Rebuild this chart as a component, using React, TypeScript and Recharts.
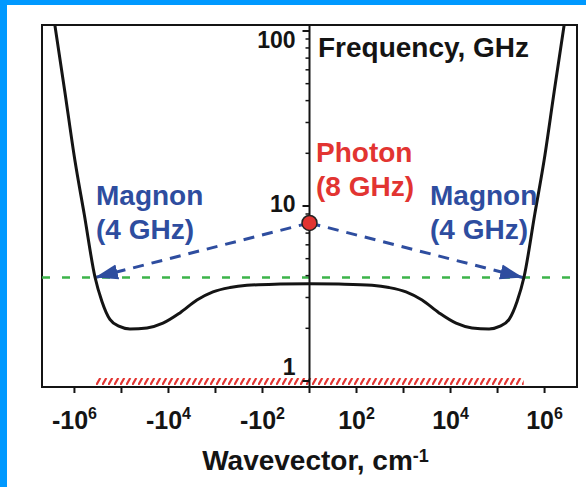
import { ComposedChart, Line, XAxis, YAxis, ReferenceLine, ReferenceArea, ReferenceDot } from "recharts";

// wavevector (cm^-1) and frequency (GHz) of the black dispersion curve
const curveK = [
  -2.7e6, -1.6e6, -9.8e5, -6.2e5, -3.66e5, -2.6e5, -1.76e5, -1.1e5, -6.6e4, -2.86e4, -1.31e4,
  -5.7e3, -2.48e3, -1.13e3, -491, -214, -42, 0, 42, 214, 491, 1.13e3, 2.48e3, 5.7e3, 1.31e4,
  2.86e4, 6.6e4, 1.1e5, 1.76e5, 2.6e5, 3.66e5, 6.2e5, 9.8e5, 1.6e6, 2.7e6,
];
const curveF = [
  115, 45, 18.3, 9.0, 3.93, 2.85, 2.25, 2.05, 1.98, 2.01, 2.14, 2.45, 2.9, 3.23, 3.42, 3.52, 3.58,
  3.6, 3.58, 3.52, 3.42, 3.23, 2.9, 2.45, 2.14, 2.01, 1.98, 2.05, 2.25, 2.85, 3.93, 9.0, 18.3, 45,
  115,
];

const photonK = 0;
const photonF = 8;
const magnonK = [-3.66e5, 3.5e5];
const magnonF = 3.9;
const hatchK = [-3.5e5, 3.6e5];
const hatchF = [0.949, 1.04];

const xTickK = [-1e6, -1e5, -1e4, -1e3, -1e2, 0, 1e2, 1e3, 1e4, 1e5, 1e6];
const xLabelK = [-1e6, -1e4, -1e2, 1e2, 1e4, 1e6];
const yMajor = [1, 10, 100];
const yMinor = [2, 3, 4, 5, 6, 7, 8, 9, 20, 30, 40, 50, 60, 70, 80, 90];

const X_DOMAIN: [number, number] = [-5.69, 5.69];
const Y_DOMAIN: [number, number] = [0.924, 108.2];

const FONT = "'Liberation Sans', Arial, Helvetica, sans-serif";
const INK = "#141414";
const RED = "#e23431";
const BLUE = "#2e4d9f";
const GREEN = "#3cb44a";

// symmetric log axis: 0 in the middle, one unit per decade from 10^2 outwards
const toU = (k: number) =>
  k === 0 ? 0 : Math.sign(k) * Math.max(0, Math.log10(Math.abs(k)) - 1);

const curveData = curveK.map((k, i) => ({ u: toU(k), f: curveF[i] }));

const PLOT_W = 535;
const pxU = (X_DOMAIN[1] - X_DOMAIN[0]) / PLOT_W;

const yLabelDy: Record<number, number> = { 1: -6, 10: 6, 100: 17 };

function XTick({ x, y, payload }: any) {
  const k = xTickK.find((t) => Math.abs(toU(t) - payload.value) < 1e-6);
  if (k === undefined || !xLabelK.includes(k)) return <g />;
  const exp = Math.round(Math.log10(Math.abs(k)));
  return (
    <text x={x} y={y + 36} textAnchor="middle" fontFamily={FONT} fontWeight="bold" fontSize={25} fill={INK}>
      <tspan>{k < 0 ? "-10" : "10"}</tspan>
      <tspan dy={-10} fontSize={16}>
        {exp}
      </tspan>
    </text>
  );
}

export default function App() {
  return (
    <div style={{ position: "fixed", left: 0, top: 0, width: 586, height: 487, background: "#fff" }}>
      <ComposedChart width={586} height={487} margin={{ top: 25, right: 9, bottom: 40, left: 42 }}>
        <defs>
          <pattern id="hatch" width="6" height="7" patternUnits="userSpaceOnUse">
            <path d="M0.3,7 L4.3,0" stroke={RED} strokeWidth={2.2} />
          </pattern>
          <marker
            id="arrowhead"
            viewBox="0 -8 23 16"
            refX="23"
            refY="0"
            markerWidth="23"
            markerHeight="16"
            markerUnits="userSpaceOnUse"
            orient="auto"
          >
            <path d="M0,-7.5 L23,0 L0,7.5 Z" fill={BLUE} />
          </marker>
        </defs>
        <XAxis
          dataKey="u"
          type="number"
          domain={X_DOMAIN}
          allowDataOverflow
          ticks={xTickK.map(toU)}
          interval={0}
          height={60}
          tickSize={6}
          tickMargin={0}
          tick={<XTick />}
          tickLine={{ stroke: INK, strokeWidth: 2 }}
          axisLine={{ stroke: INK, strokeWidth: 2 }}
        />
        <YAxis
          type="number"
          scale="log"
          domain={Y_DOMAIN}
          allowDataOverflow
          width={0}
          tick={false}
          tickLine={false}
          axisLine={false}
        />

        <ReferenceArea
          x1={X_DOMAIN[0]}
          x2={X_DOMAIN[1]}
          y1={Y_DOMAIN[0]}
          y2={Y_DOMAIN[1]}
          fill="none"
          stroke={INK}
          strokeWidth={2}
        />
        <ReferenceArea
          x1={toU(hatchK[0])}
          x2={toU(hatchK[1])}
          y1={hatchF[0]}
          y2={hatchF[1]}
          fill="url(#hatch)"
          fillOpacity={1}
          stroke="none"
        />
        <ReferenceLine y={magnonF} stroke={GREEN} strokeWidth={2.5} strokeDasharray="8 12" />
        <ReferenceLine x={0} stroke={INK} strokeWidth={2} />
        {yMinor.map((v) => (
          <ReferenceLine
            key={"mi" + v}
            segment={[
              { x: 0, y: v },
              { x: -4 * pxU, y: v },
            ]}
            stroke={INK}
            strokeWidth={1.5}
          />
        ))}
        {yMajor.map((v) => (
          <ReferenceLine
            key={"ma" + v}
            segment={[
              { x: 0, y: v },
              { x: -7 * pxU, y: v },
            ]}
            stroke={INK}
            strokeWidth={2}
            label={{
              content: (p: any) => (
                <text
                  x={p.viewBox.x - 7}
                  y={p.viewBox.y + yLabelDy[v]}
                  textAnchor="end"
                  fontFamily={FONT}
                  fontWeight="bold"
                  fontSize={23}
                  fill={INK}
                >
                  {v}
                </text>
              ),
            }}
          />
        ))}
        {magnonK.map((k) => (
          <ReferenceLine
            key={"arrow" + k}
            segment={[
              { x: toU(photonK), y: photonF },
              { x: toU(k), y: magnonF },
            ]}
            stroke={BLUE}
            strokeWidth={3}
            strokeDasharray="11 8"
            markerEnd="url(#arrowhead)"
          />
        ))}
        <Line
          data={curveData}
          dataKey="f"
          type="monotone"
          stroke={INK}
          strokeWidth={3}
          dot={false}
          isAnimationActive={false}
        />
        <ReferenceDot x={toU(photonK)} y={photonF} r={7.5} fill={RED} stroke="#222" strokeWidth={1.5} />
      </ComposedChart>

      <svg
        width={586}
        height={487}
        style={{ position: "absolute", left: 0, top: 0, pointerEvents: "none" }}
        fontFamily={FONT}
        fontWeight="bold"
      >
        <text x={318} y={57} fontSize={28} fill={INK}>
          Frequency, GHz
        </text>
        <text x={316} y={162} fontSize={28} fill={RED}>
          Photon
        </text>
        <text x={316} y={196} fontSize={28} fill={RED}>
          (8 GHz)
        </text>
        <text x={96} y={205} fontSize={28} fill={BLUE}>
          Magnon
        </text>
        <text x={96} y={239} fontSize={28} fill={BLUE}>
          (4 GHz)
        </text>
        <text x={430} y={205} fontSize={28} fill={BLUE}>
          Magnon
        </text>
        <text x={430} y={239} fontSize={28} fill={BLUE}>
          (4 GHz)
        </text>
        <text x={315.5} y={470} fontSize={28} fill={INK} textAnchor="middle">
          <tspan>Wavevector, cm</tspan>
          <tspan dy={-8} fontSize={18}>
            -1
          </tspan>
        </text>
      </svg>

      <div style={{ position: "absolute", left: 0, top: 0, width: 586, height: 5, background: "#0099ff" }} />
      <div style={{ position: "absolute", left: 0, top: 0, width: 7, height: 487, background: "#0099ff" }} />
    </div>
  );
}
